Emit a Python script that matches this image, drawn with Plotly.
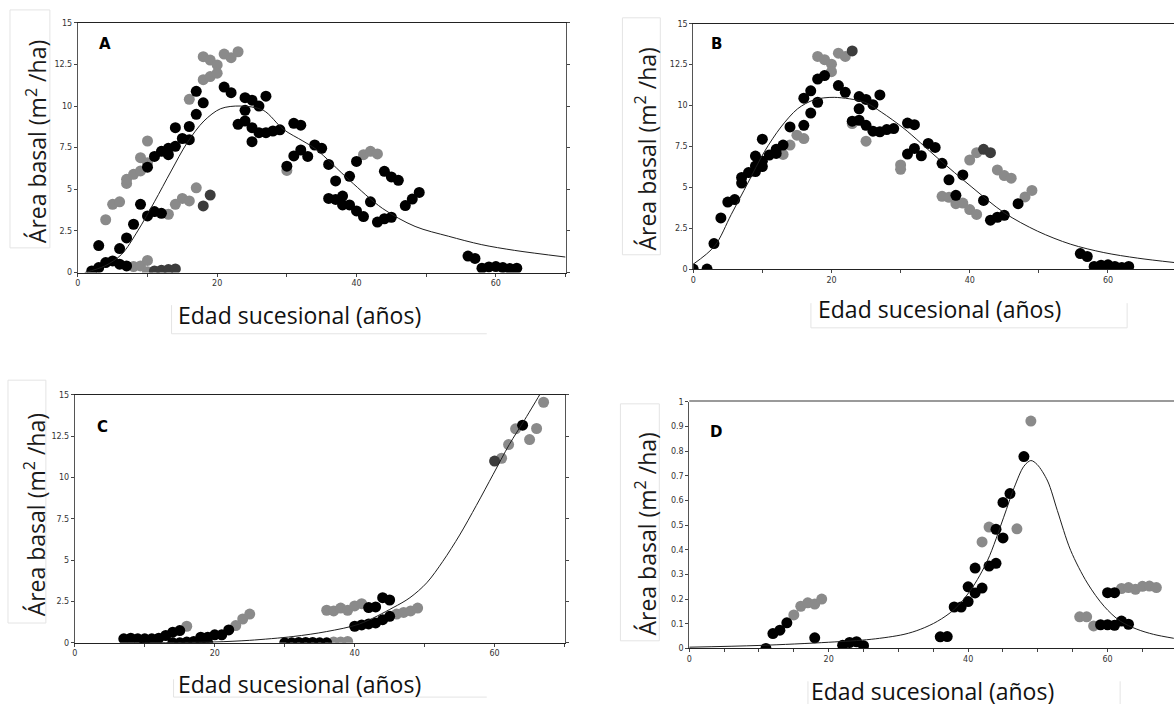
import plotly.graph_objects as go

W, H = 1174, 709

# ---------------- data ----------------
# Panel A
a_black_x = [2,3,3,4,5,6,7,6,7,8,9,10,10,11,12,11,12,13,13,14,14,15,16,16,17,17,18,21,22,23,24,24,24,25,25,25,26,26,27,27,28,29,30,31,31,32,32,33,34,35,36,37,36,37,38,38,39,39,40,40,41,42,43,44,45,44,45,46,47,48,49,56,57,58,59,60,61,62,63]
a_black_y = [0.1,0.3,1.62,0.6,0.7,0.5,0.4,1.44,2.08,2.9,4.1,3.4,6.33,3.66,3.56,6.97,7.28,7.08,7.46,7.58,8.7,8.05,7.98,8.77,9.5,10.88,10.19,11.14,10.8,8.9,10.5,9.1,9.74,10.35,8.7,7.86,10.0,8.4,10.59,8.4,8.5,8.57,6.39,8.96,7.0,8.85,7.36,6.97,7.66,7.46,6.49,5.5,4.45,4.39,4.59,4.06,4.06,5.78,3.7,6.67,3.36,4.25,3.03,3.23,3.32,6.08,5.74,5.54,4.02,4.41,4.81,0.99,0.85,0.26,0.34,0.36,0.3,0.24,0.26]
a_gray_x = [4,5,6,7,7,8,9,9,10,10,13,14,15,16,17,16,18,18,19,19,20,20,21,22,23,8,9,10,10,30,41,42,43]
a_gray_y = [3.17,4.1,4.25,5.35,5.6,5.9,6.1,6.9,7.9,6.6,3.5,4.1,4.45,4.3,5.09,10.4,12.96,11.58,12.76,11.77,12.47,11.97,13.12,12.9,13.26,0.36,0.4,0.73,0.05,6.13,7.08,7.28,7.12]
a_dark_x = [18,19,11,12,13,14]
a_dark_y = [4.0,4.65,0.1,0.14,0.18,0.22]
a_fit_x = [1,3.9,6.3,8.6,11,13.4,15.7,18.1,20.5,23.3,26.6,29.5,32.3,34.2,39,43.7,48.4,53.2,57.9,62.7,70]
a_fit_y = [0,0.4,1.1,2.5,4.25,6.1,7.8,9.1,9.84,10.0,9.75,8.6,7.9,7.4,5.54,3.86,2.77,2.18,1.68,1.33,0.93]

# Panel B
b_black_x = [0,2,3,4,5,6,7,7,8,9,9,9,10,10,10,11,12,12,13,14,16,16,17,17,18,18,19,21,22,23,24,24,24,25,25,26,26,27,27,28,29,31,32,31,32,33,34,35,36,37,38,39,42,43,44,45,47,56,57,58,59,60,61,62,63]
b_black_y = [0,0,1.56,3.13,4.1,4.25,5.6,5.26,5.9,6.91,6.3,5.96,7.94,6.6,6.27,6.97,7.32,7.07,7.58,8.69,8.79,10.45,9.54,10.9,10.2,11.62,11.83,11.22,10.81,9.04,10.55,9.8,9.1,10.37,8.79,10.05,8.43,10.65,8.39,8.53,8.59,8.93,8.83,7.03,7.38,6.93,7.68,7.44,6.47,5.46,4.51,5.76,4.2,2.99,3.17,3.29,4.0,0.95,0.77,0.16,0.24,0.26,0.16,0.1,0.16]
b_gray_x = [13,14,15,16,18,19,20,20,21,22,23,25,30,30,36,37,38,39,40,41,40,41,44,45,46,48,49]
b_gray_y = [7.01,7.58,8.19,7.98,13.0,12.8,12.53,12.07,13.2,13.0,8.9,7.82,6.37,6.1,4.45,4.39,4.0,4.04,3.64,3.34,6.67,7.12,6.06,5.72,5.56,4.41,4.81]
b_dark_x = [23,42,43]
b_dark_y = [13.34,7.32,7.12]
b_fit_x = [0,3.1,5.5,7.9,10.3,12.7,15.1,17.5,20.4,24.8,27.2,30.5,35.4,40.2,45,49.8,54.6,59.4,64.3,69.6]
b_fit_y = [0.3,1.41,3.34,5.26,7.18,8.69,9.8,10.35,10.5,10.2,9.6,8.59,6.77,5.05,3.44,2.32,1.52,1.01,0.67,0.4]

# Panel C
c_black_x = [7,8,9,10,10,11,12,13,14,15,14,15,16,17,18,18,19,19,20,21,22,30,31,32,33,34,35,36,40,41,42,43,44,45,42,43,44,45,64]
c_black_y = [0.24,0.28,0.24,0.08,0.24,0.24,0.28,0.44,0.64,0.74,0,0,0.04,0.08,0.14,0.34,0,0.34,0.48,0.48,0.78,0,0,0.02,0.02,0.02,0,0,1.0,1.08,1.14,1.2,1.4,1.6,2.13,2.17,2.73,2.59,13.17]
c_gray_x = [16,23,24,25,37,38,39,36,37,38,39,40,41,46,47,48,49,61,62,63,65,66,67]
c_gray_y = [1.0,1.04,1.44,1.74,0.05,0.05,0.08,1.97,1.93,2.1,1.97,2.23,2.37,1.74,1.84,1.93,2.1,11.17,12.0,12.95,12.3,12.97,14.56]
c_dark_x = [60]
c_dark_y = [11.0]
c_fit_x = [10,15,20,25,31.2,36,40.7,45.5,47.9,50.3,52.6,55,57.4,59.8,62.1,64.3,66.7,67.5]
c_fit_y = [0.005,0.02,0.05,0.15,0.38,0.68,1.14,2.13,2.73,3.63,4.93,6.52,8.32,10.2,12.0,13.5,15.2,15.8]

# Panel D
d_black_x = [11,12,13,14,18,22,23,24,25,36,37,38,39,40,40,41,41,42,43,44,44,45,45,46,48,59,60,61,62,63,60,61]
d_black_y = [0.0,0.06,0.074,0.104,0.043,0.013,0.024,0.027,0.011,0.047,0.048,0.168,0.168,0.19,0.25,0.225,0.326,0.245,0.334,0.345,0.483,0.448,0.592,0.628,0.778,0.096,0.096,0.094,0.111,0.098,0.226,0.226]
d_gray_x = [15,16,17,18,19,42,43,47,49,56,57,58,62,63,64,65,66,67]
d_gray_y = [0.136,0.171,0.185,0.18,0.20,0.432,0.492,0.485,0.922,0.128,0.128,0.091,0.243,0.247,0.24,0.252,0.253,0.247]
d_fit_x = [0,10,20,26.1,30.8,33.2,35.6,38,40.4,42.8,45.1,46.6,48,49,49.9,51.4,52.8,54.7,57.1,59.5,61.8,64.2,66.6,69.5]
d_fit_y = [0.005,0.012,0.025,0.037,0.057,0.078,0.11,0.158,0.238,0.358,0.532,0.652,0.739,0.762,0.746,0.679,0.559,0.398,0.265,0.171,0.111,0.078,0.057,0.041]

y15_vals = [0, 2.5, 5, 7.5, 10, 12.5, 15]
y15_text = ["0", "2.5", "5", "7.5", "10", "12.5", "15"]
y1_vals = [0, 0.1, 0.2, 0.3, 0.4, 0.5, 0.6, 0.7, 0.8, 0.9, 1.0]
y1_text = ["0", "0.1", "0.2", "0.3", "0.4", "0.5", "0.6", "0.7", "0.8", "0.9", "1"]

panel_labels = ["A", "B", "C", "D"]
y_title = "Área basal (m<sup>2</sup> /ha)"
x_title = "Edad sucesional (años)"

# ---------------- styles ----------------
BLACK = "#000000"
GRAY = "#8a8a8a"
DARK = "#3c3c3c"
MS = 11


def px(x):
    return x / W


def py(y):
    return 1 - y / H


fig = go.Figure()

panels = [
    dict(ax="", bx=(a_black_x, a_black_y), gx=(a_gray_x, a_gray_y), dx=(a_dark_x, a_dark_y), fit=(a_fit_x, a_fit_y)),
    dict(ax="2", bx=(b_black_x, b_black_y), gx=(b_gray_x, b_gray_y), dx=(b_dark_x, b_dark_y), fit=(b_fit_x, b_fit_y)),
    dict(ax="3", bx=(c_black_x, c_black_y), gx=(c_gray_x, c_gray_y), dx=(c_dark_x, c_dark_y), fit=(c_fit_x, c_fit_y)),
    dict(ax="4", bx=(d_black_x, d_black_y), gx=(d_gray_x, d_gray_y), dx=([], []), fit=(d_fit_x, d_fit_y)),
]

for p in panels:
    xa, ya = "x" + p["ax"], "y" + p["ax"]
    for (xs, ys), col in [(p["gx"], GRAY), (p["dx"], DARK), (p["bx"], BLACK)]:
        fig.add_trace(go.Scatter(x=xs, y=ys, mode="markers", xaxis=xa, yaxis=ya,
                                 marker=dict(color=col, size=MS, line=dict(width=0)),
                                 showlegend=False, hoverinfo="skip"))
    fig.add_trace(go.Scatter(x=p["fit"][0], y=p["fit"][1], mode="lines", xaxis=xa, yaxis=ya,
                             line=dict(color="#1e1e1e", width=1, shape="spline", smoothing=0.9),
                             showlegend=False, hoverinfo="skip", cliponaxis=True))

tickfont = dict(family="DejaVu Sans", size=8, color="#333")
axis_common = dict(showgrid=False, zeroline=False, ticks="outside", ticklen=3,
                   tickcolor="#444", linecolor="#444", linewidth=1, showline=True,
                   tickfont=tickfont, fixedrange=True)

# domains in pixels
dom = {
    "": dict(x=(75, 564), y=(19, 272), xr=[0, 70], yr=[0, 15]),
    "2": dict(x=(692, 1174), y=(20, 268.5), xr=[0, (1174 - 692) / 6.93], yr=[0, 15]),
    "3": dict(x=(72, 563), y=(396, 647), xr=[0, 70], yr=[0, 15]),
    "4": dict(x=(688, 1174), y=(403, 652.7), xr=[0, (1174 - 688) / 6.99], yr=[0, 1]),
}

layout = dict(width=W, height=H, margin=dict(l=0, r=0, t=0, b=0), autosize=False,
              paper_bgcolor="white", plot_bgcolor="white", showlegend=False)

for k, d in dom.items():
    xkey = "xaxis" + k
    ykey = "yaxis" + k
    minor_step = 5 if k == "4" else 10
    yv, yt = (y1_vals, y1_text) if k == "4" else (y15_vals, y15_text)
    layout[xkey] = dict(axis_common, domain=[px(d["x"][0]), px(d["x"][1])], range=d["xr"],
                        tickmode="linear", tick0=0, dtick=20,
                        minor=dict(ticks="outside", dtick=minor_step, tick0=0, ticklen=3,
                                   tickcolor="#444", showgrid=False),
                        anchor="y" + k,
                        mirror=(k in ("", "2", "3")), linecolor="#222")
    layout[ykey] = dict(axis_common, domain=[py(d["y"][1]), py(d["y"][0])], range=d["yr"],
                        tickvals=yv, ticktext=yt, anchor="x" + k,
                        mirror=("ticks" if k in ("", "3") else False), linecolor="#555")

fig.update_layout(**layout)

shapes = []
# gray thick top border for panel D
shapes.append(dict(type="line", xref="paper", yref="paper", x0=px(688), x1=1, y0=py(402), y1=py(402),
                   line=dict(color="#9a9a9a", width=2)))

box_col = "#e4e4e4"
# y-title boxes
for (x0, y0, x1, y1) in [(7, 6, 47, 247), (621, 14, 659, 254), (5, 381, 43, 627), (619, 405, 658, 645)]:
    shapes.append(dict(type="rect", xref="paper", yref="paper", x0=px(x0), x1=px(x1), y0=py(y1), y1=py(y0),
                       line=dict(color=box_col, width=1)))
# x-title box fragments
for (x0, y0, x1, y1) in [(169, 305, 169, 334), (169, 334, 485, 334),
                         (810, 303, 810, 328), (810, 328, 1127, 328), (1127, 303, 1127, 328),
                         (171, 684, 171, 702), (171, 702, 485, 702),
                         (807, 686, 807, 709), (1120, 686, 1120, 709)]:
    shapes.append(dict(type="line", xref="paper", yref="paper", x0=px(x0), x1=px(x1), y0=py(y0), y1=py(y1),
                       line=dict(color=box_col, width=1)))
fig.update_layout(shapes=shapes)

ann = []
title_font = dict(family="Open Sans", size=23, color="#1a1a1a")
for (cx, cy) in [(34, 139), (645, 147), (33, 517), (645, 537)]:
    ann.append(dict(text=y_title, x=px(cx), y=py(cy), xref="paper", yref="paper", showarrow=False,
                    textangle=-90, font=title_font, xanchor="center", yanchor="middle"))
for (cx, cy) in [(297, 315), (939, 309), (297, 689), (932, 696)]:
    ann.append(dict(text=x_title, x=px(cx), y=py(cy), xref="paper", yref="paper", showarrow=False,
                    font=dict(family="Open Sans", size=23, color="#111"), xanchor="center", yanchor="middle"))
for lab, (cx, cy) in zip(panel_labels, [(102, 41), (715, 41), (100, 428), (715, 433)]):
    ann.append(dict(text="<b>" + lab + "</b>", x=px(cx), y=py(cy), xref="paper", yref="paper",
                    showarrow=False, font=dict(family="DejaVu Sans", size=15, color="#000"),
                    xanchor="center", yanchor="middle"))
fig.update_layout(annotations=ann)

fig.write_html("out.html")
